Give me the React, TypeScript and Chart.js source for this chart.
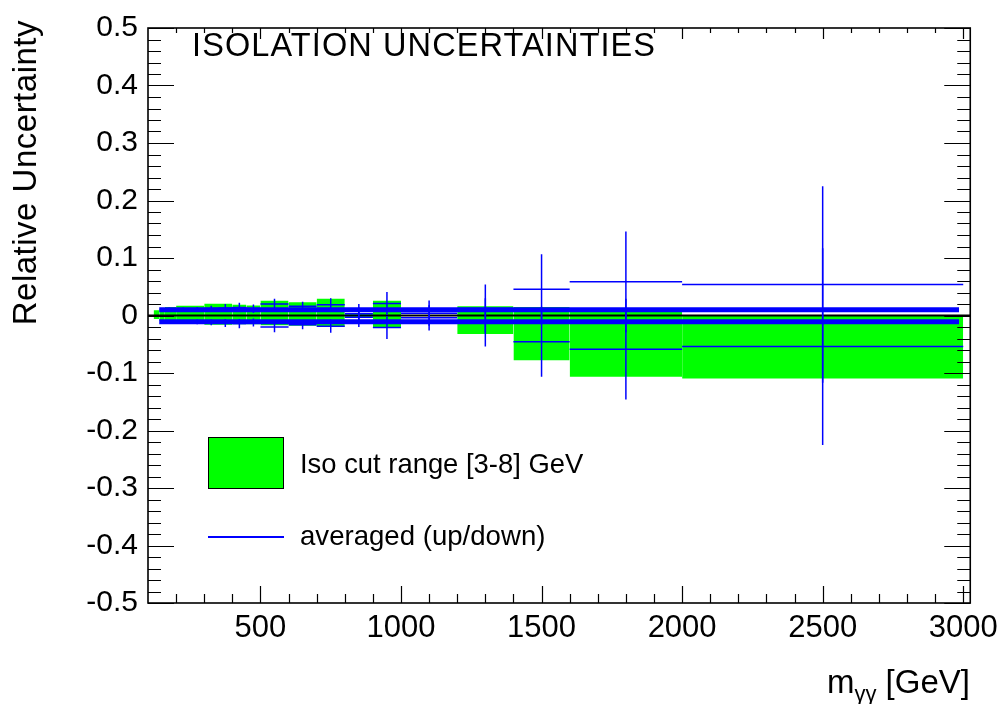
import React, { useEffect, useRef } from "react";
import { Chart, registerables } from "chart.js";

Chart.register(...registerables);

const FONT = '"Liberation Sans", Arial, Helvetica, sans-serif';

// axis ranges and tick labels
const xRange = [100, 3025];
const yRange = [-0.5, 0.5];
const xTickValues = [500, 1000, 1500, 2000, 2500, 3000];
const yTickValues = [-0.5, -0.4, -0.3, -0.2, -0.1, 0, 0.1, 0.2, 0.3, 0.4, 0.5];
const yTickLabels = ["-0.5", "-0.4", "-0.3", "-0.2", "-0.1", "0", "0.1", "0.2", "0.3", "0.4", "0.5"];

// green band: Iso cut range [3-8] GeV
const greenEdges = [120, 140, 160, 200, 300, 400, 450, 500, 600, 700, 800, 900, 1000, 1200, 1400, 1600, 2000, 3000];
const greenUp = [0.009, 0.011, 0.0146, 0.017, 0.0204, 0.0186, 0.0175, 0.0255, 0.023, 0.029, 0.004, 0.0255, 0.0, 0.016, 0.015, 0.012, 0.0];
const greenDown = [-0.006, -0.009, -0.011, -0.013, -0.016, -0.015, -0.015, -0.017, -0.018, -0.019, -0.004, -0.021, 0.0, -0.032, -0.078, -0.1065, -0.1095];

// thick blue lines
const thickEdges = [140, 2985];
const thickUp = 0.0099;
const thickDown = -0.0107;

// averaged (up/down) histogram with errors
const errEdges = [150, 200, 250, 300, 350, 400, 450, 500, 600, 700, 800, 900, 1000, 1200, 1400, 1600, 2000, 3000];
const errVal = [0.011, 0.011, 0.011, 0.012, 0.013, 0.014, 0.012, 0.02, 0.016, 0.0185, 0.003, 0.021, 0.004, 0.012, 0.0457, 0.0585, 0.054];
const errErr = [0.003, 0.003, 0.004, 0.005, 0.007, 0.008, 0.007, 0.009, 0.008, 0.0115, 0.017, 0.02, 0.022, 0.042, 0.061, 0.0875, 0.171];

function errData(sign: number) {
  const pts: { x: number; y: number | null }[] = [];
  for (let i = 0; i < errVal.length; i++) {
    const lo = errEdges[i];
    const hi = errEdges[i + 1];
    const c = (lo + hi) / 2;
    const v = sign * errVal[i];
    const e = errErr[i];
    pts.push({ x: lo, y: v }, { x: hi, y: v }, { x: hi, y: null });
    pts.push({ x: c, y: v - e }, { x: c, y: v + e }, { x: c, y: null });
  }
  return pts;
}

const framePlugin = {
  id: "rootFrame",
  afterDraw(chart: any) {
    const { ctx, chartArea, scales } = chart;
    const { left, right, top, bottom } = chartArea;
    const xs = scales.x;
    const ys = scales.y;
    ctx.save();
    ctx.strokeStyle = "#000";
    ctx.lineWidth = 1.2;
    ctx.beginPath();
    for (let v = 200; v <= 3000; v += 100) {
      const px = Math.round(xs.getPixelForValue(v)) + 0.5;
      const major = v % 500 === 0;
      ctx.moveTo(px, bottom);
      ctx.lineTo(px, bottom - (major ? 17 : 9));
      ctx.moveTo(px, top);
      ctx.lineTo(px, top + (major ? 11 : 5));
    }
    for (let k = -25; k <= 25; k++) {
      const v = k * 0.02;
      const py = Math.round(ys.getPixelForValue(v)) + 0.5;
      const major = k % 5 === 0;
      const len = major ? 26 : 13;
      ctx.moveTo(left, py);
      ctx.lineTo(left + len, py);
      ctx.moveTo(right, py);
      ctx.lineTo(right - len, py);
    }
    ctx.stroke();
    ctx.lineWidth = 1.6;
    ctx.strokeRect(left, top, right - left, bottom - top);
    ctx.restore();
  },
};

export default function App() {
  const ref = useRef<HTMLCanvasElement>(null);

  useEffect(() => {
    const datasets: any[] = [];
    greenUp.forEach((top, i) => {
      datasets.push({
        data: [
          { x: greenEdges[i], y: top },
          { x: greenEdges[i + 1], y: top },
        ],
        borderColor: "rgba(0,0,0,0)",
        borderWidth: 1,
        backgroundColor: "#00ff00",
        pointRadius: 0,
        fill: { value: greenDown[i] },
        order: 4,
      });
    });
    datasets.push({
      data: [
        { x: thickEdges[0], y: thickUp },
        { x: thickEdges[1], y: thickUp },
      ],
      borderColor: "#0000ff",
      borderWidth: 5,
      pointRadius: 0,
      fill: false,
      order: 3,
    });
    datasets.push({
      data: [
        { x: thickEdges[0], y: thickDown },
        { x: thickEdges[1], y: thickDown },
      ],
      borderColor: "#0000ff",
      borderWidth: 5,
      pointRadius: 0,
      fill: false,
      order: 3,
    });
    datasets.push({
      data: [
        { x: xRange[0], y: 0 },
        { x: xRange[1], y: 0 },
      ],
      borderColor: "#000",
      borderWidth: 2,
      pointRadius: 0,
      fill: false,
      order: 2,
    });
    [1, -1].forEach((s) => {
      datasets.push({
        data: errData(s),
        borderColor: "#0000ff",
        borderWidth: 1.5,
        pointRadius: 0,
        fill: false,
        spanGaps: false,
        order: 1,
      });
    });

    const chart = new Chart(ref.current as HTMLCanvasElement, {
      type: "line",
      data: { datasets },
      options: {
        animation: false,
        responsive: false,
        maintainAspectRatio: false,
        layout: { padding: { left: 0, right: 34, top: 22, bottom: 0 } },
        plugins: { legend: { display: false }, tooltip: { enabled: false } },
        elements: { line: { tension: 0 } },
        scales: {
          x: {
            type: "linear",
            min: xRange[0],
            max: xRange[1],
            afterBuildTicks: (s: any) => {
              s.ticks = xTickValues.map((v) => ({ value: v }));
            },
            afterFit: (s: any) => {
              s.height = 101;
            },
            ticks: {
              color: "#000",
              font: { family: FONT, size: 31 },
              padding: 7,
              maxRotation: 0,
              autoSkip: false,
              callback: (v: any) => String(v),
            },
            grid: { display: false, drawTicks: false },
            border: { display: false },
          },
          y: {
            type: "linear",
            min: yRange[0],
            max: yRange[1],
            afterBuildTicks: (s: any) => {
              s.ticks = yTickValues.map((v) => ({ value: v }));
            },
            afterFit: (s: any) => {
              s.width = 148;
            },
            ticks: {
              color: "#000",
              font: { family: FONT, size: 30 },
              padding: 10,
              autoSkip: false,
              callback: (v: any) => {
                const idx = yTickValues.findIndex((t) => Math.abs(t - v) < 1e-9);
                return idx >= 0 ? yTickLabels[idx] : "";
              },
            },
            grid: { display: false, drawTicks: false },
            border: { display: false },
          },
        },
      } as any,
      plugins: [framePlugin],
    });
    return () => chart.destroy();
  }, []);

  const text = (size: number): React.CSSProperties => ({
    position: "absolute",
    fontFamily: FONT,
    fontSize: size,
    lineHeight: 1,
    whiteSpace: "nowrap",
    color: "#000",
  });

  return (
    <div style={{ position: "fixed", left: 0, top: 0, width: 1005, height: 704, background: "#fff", overflow: "hidden" }}>
      <canvas ref={ref} width={1005} height={704} style={{ position: "absolute", left: 0, top: 0, width: 1005, height: 704 }} />
      <div style={{ ...text(32.5), left: 192, top: 29, letterSpacing: 1.1 }}>ISOLATION UNCERTAINTIES</div>
      <div
        style={{
          ...text(33),
          left: 7.5,
          top: 420,
          width: 400,
          textAlign: "right",
          letterSpacing: 0.5,
          transform: "rotate(-90deg)",
          transformOrigin: "left top",
        }}
      >
        Relative Uncertainty
      </div>
      <div style={{ ...text(33), right: 35, top: 665 }}>
        m<span style={{ fontSize: 22, position: "relative", top: 8 }}>γγ</span> [GeV]
      </div>
      <div
        style={{
          position: "absolute",
          left: 208,
          top: 437,
          width: 76,
          height: 52,
          background: "#00ff00",
          border: "1.5px solid #000",
          boxSizing: "border-box",
        }}
      />
      <div style={{ ...text(27.4), left: 300, top: 449.5 }}>Iso cut range [3-8] GeV</div>
      <div style={{ position: "absolute", left: 208, top: 536, width: 76, height: 1.5, background: "#0000ff" }} />
      <div style={{ ...text(27.6), left: 300, top: 521.5 }}>averaged (up/down)</div>
    </div>
  );
}
